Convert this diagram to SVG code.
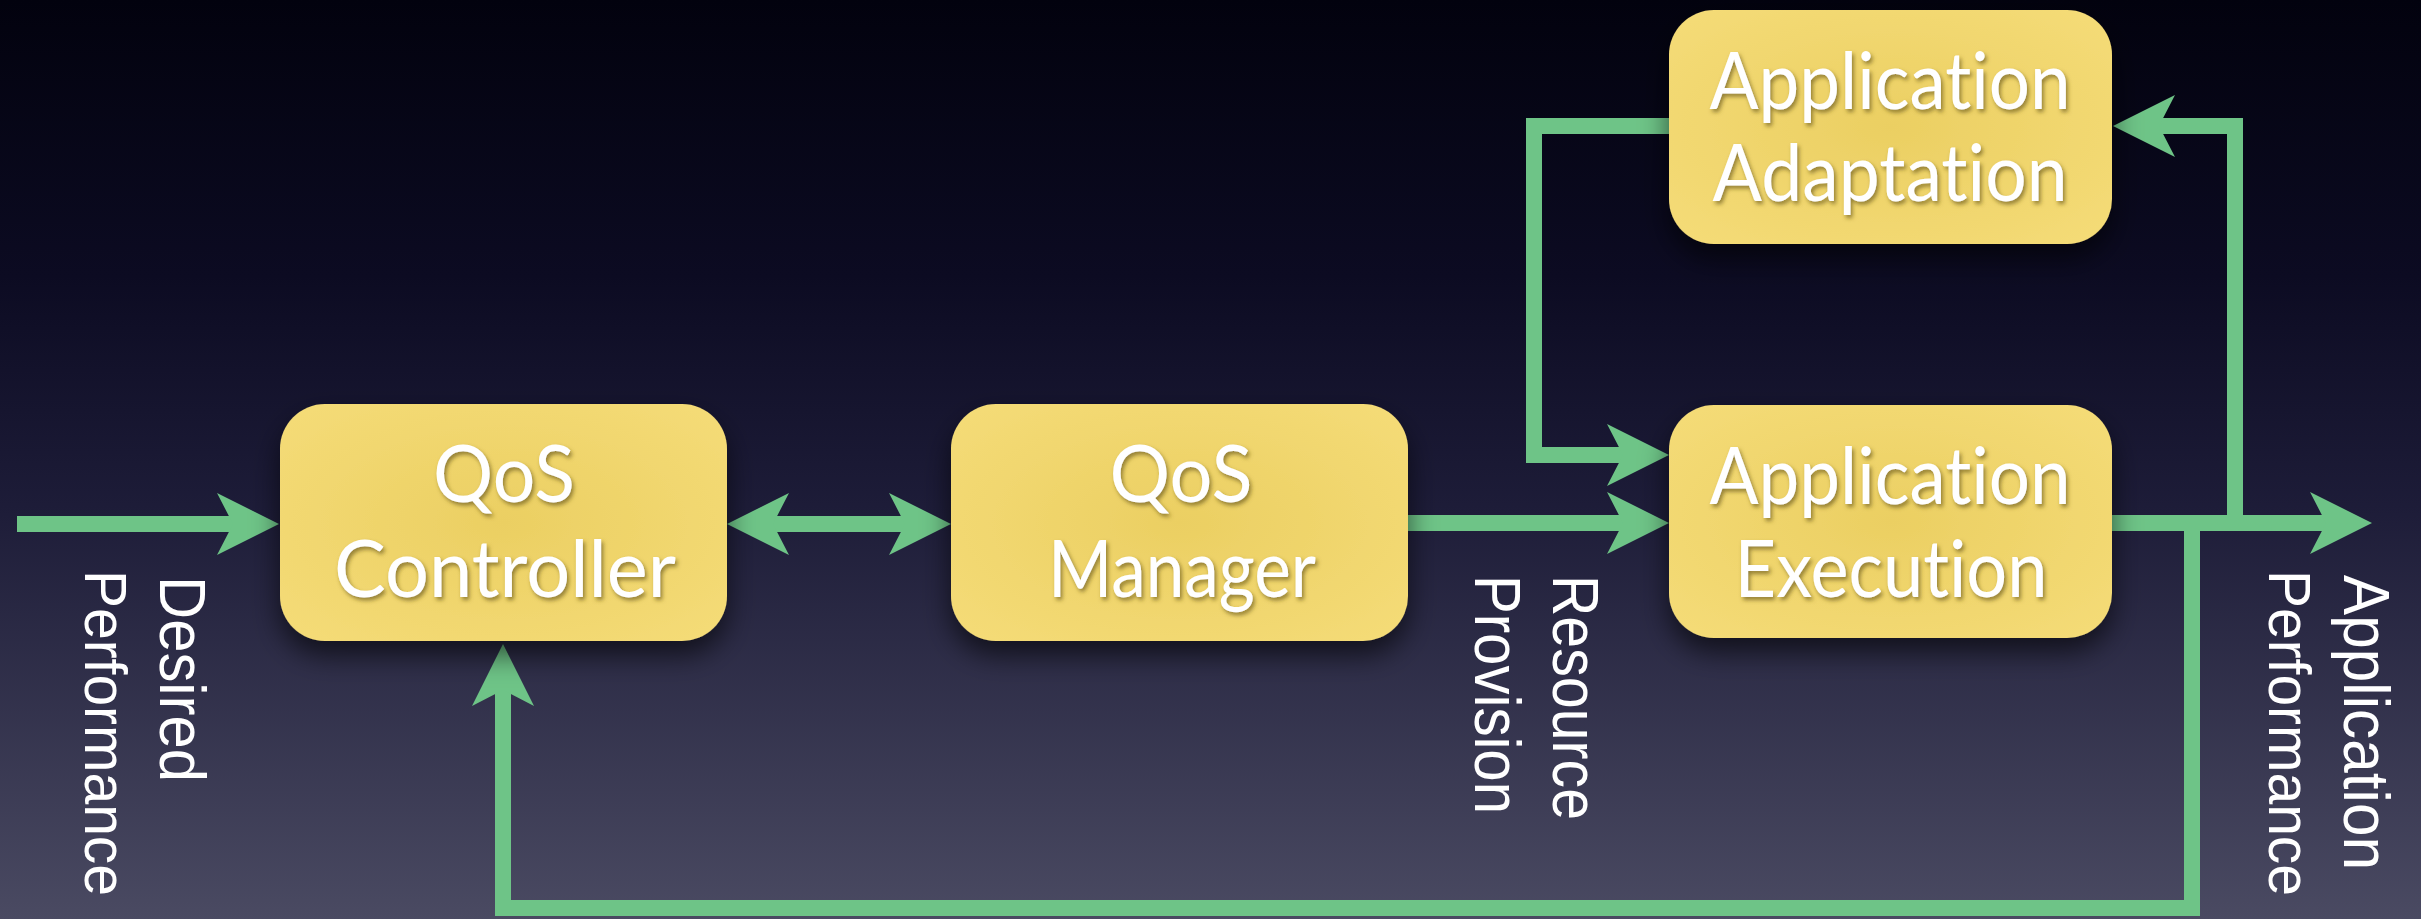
<svg xmlns="http://www.w3.org/2000/svg" width="2421" height="919" viewBox="0 0 2421 919">
<style>
.node rect{fill:url(#boxg);filter:url(#shadow)}
.node text{font-family:Lato,"Open Sans","Liberation Sans",sans-serif;font-size:80px;fill:#ffffff;text-anchor:middle;filter:url(#tshadow);font-variant-ligatures:none;font-feature-settings:"liga" 0,"dlig" 0}
.conn path{fill:none;stroke:#6ec487;stroke-width:16;stroke-linejoin:miter}
.lbl{font-family:"Liberation Sans",Arial,sans-serif;font-size:64px;fill:#ffffff}
.lbl.sm{font-size:60px}
</style>
<defs>
<linearGradient id="bg" x1="0" y1="0" x2="0" y2="1">
<stop offset="0" stop-color="#02020e"/>
<stop offset="0.3" stop-color="#0c0b22"/>
<stop offset="0.55" stop-color="#1d1c38"/>
<stop offset="1" stop-color="#4a4a62"/>
</linearGradient>
<radialGradient id="boxg" cx="0.5" cy="0.5" r="0.7">
<stop offset="0" stop-color="#ebcf62"/>
<stop offset="1" stop-color="#f5dc78"/>
</radialGradient>
<filter id="shadow" x="-20%" y="-20%" width="140%" height="160%">
<feDropShadow dx="0" dy="14" stdDeviation="14" flood-color="#000000" flood-opacity="0.6"/>
</filter>
<filter id="tshadow" x="-10%" y="-20%" width="120%" height="150%">
<feDropShadow dx="2" dy="3" stdDeviation="2" flood-color="#6b5a1a" flood-opacity="0.7"/>
</filter>
<marker id="ah" markerUnits="userSpaceOnUse" markerWidth="70" markerHeight="70" refX="0" refY="0" orient="auto-start-reverse" overflow="visible" viewBox="-20 -35 70 70">
<path d="M46,0 L-16,-31 L0,0 L-16,31 Z" fill="#6ec487"/>
</marker>
</defs>
<rect x="0" y="0" width="2421" height="919" fill="url(#bg)"/>

<g id="connectors" class="conn">
<path d="M17,524 H233" marker-end="url(#ah)"/>
<path d="M773,524 H905" marker-start="url(#ah)" marker-end="url(#ah)"/>
<path d="M1408,523 H1623" marker-end="url(#ah)"/>
<path d="M2100,523 H2326" marker-end="url(#ah)"/>
<path d="M2235,523 V126 H2159" marker-end="url(#ah)"/>
<path d="M1680,126 H1534 V455 H1623" marker-end="url(#ah)"/>
<path d="M2192,523 V908 H503 V690" marker-end="url(#ah)"/>
</g>

<g id="qos-controller" class="node">
<rect x="280" y="404" width="447" height="237" rx="45"/>
<text x="504" y="502" textLength="142" lengthAdjust="spacingAndGlyphs">QoS</text>
<text x="505" y="597" textLength="342" lengthAdjust="spacingAndGlyphs">Controller</text>
</g>
<g id="qos-manager" class="node">
<rect x="951" y="404" width="457" height="237" rx="45"/>
<text x="1181" y="502" textLength="143" lengthAdjust="spacingAndGlyphs">QoS</text>
<text x="1182" y="597" textLength="268" lengthAdjust="spacingAndGlyphs">Manager</text>
</g>
<g id="application-adaptation" class="node">
<rect x="1669" y="10" width="443" height="234" rx="45"/>
<text x="1890" y="109" textLength="361" lengthAdjust="spacingAndGlyphs">Application</text>
<text x="1890" y="201" textLength="355" lengthAdjust="spacingAndGlyphs">Adaptation</text>
</g>
<g id="application-execution" class="node">
<rect x="1669" y="405" width="443" height="233" rx="45"/>
<text x="1890" y="504" textLength="361" lengthAdjust="spacingAndGlyphs">Application</text>
<text x="1891" y="597" textLength="313" lengthAdjust="spacingAndGlyphs">Execution</text>
</g>

<g id="labels">
<text class="lbl" transform="translate(160,576) rotate(90)" textLength="206" lengthAdjust="spacingAndGlyphs">Desired</text>
<text class="lbl sm" transform="translate(85,570) rotate(90)" textLength="326" lengthAdjust="spacingAndGlyphs">Performance</text>
<text class="lbl" transform="translate(1553,575) rotate(90)" textLength="245" lengthAdjust="spacingAndGlyphs">Resource</text>
<text class="lbl" transform="translate(1475,575) rotate(90)" textLength="239" lengthAdjust="spacingAndGlyphs">Provision</text>
<text class="lbl" transform="translate(2344,575) rotate(90)" textLength="295" lengthAdjust="spacingAndGlyphs">Application</text>
<text class="lbl sm" transform="translate(2269,570) rotate(90)" textLength="326" lengthAdjust="spacingAndGlyphs">Performance</text>
</g>
</svg>
